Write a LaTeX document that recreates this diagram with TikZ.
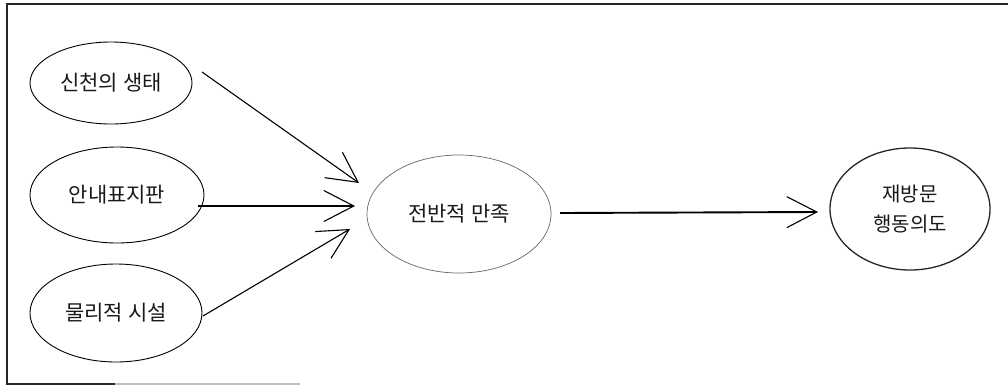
\documentclass[tikz,border=0pt]{standalone}
\usepackage{fontspec}
\setmainfont{Noto Sans CJK KR}
\usetikzlibrary{arrows.meta,calc,shapes.geometric}
\tikzset{
  bubble/.style={ellipse,draw=black,line width=0.9pt,inner sep=0pt,font=\fontsize{21}{24}\selectfont,text=black!90},
  conn/.style={line width=1.1pt,-{Straight Barb[length=30pt,width=31pt,line width=1.1pt]}},
  frameline/.style={line width=1.4pt,draw=black!85}
}
\begin{document}
\begin{tikzpicture}[x=1pt,y=-1pt]
\useasboundingbox (0,0) rectangle (1008,386);
% frame (partial, as printed)
\coordinate (ftl) at (7,4);
\coordinate (ftr) at (1008,4);
\coordinate (fbl) at (7,384);
\coordinate (fbm) at (115,384);
\coordinate (fbe) at (300,384);
\draw[frameline] (ftr) -- (ftl) -- (fbl) -- (fbm);
\draw[line width=1.2pt,black!25] (fbm) -- (fbe);
% nodes
\node[bubble,minimum width=162pt,minimum height=82pt] (e1) at (111,83) {신천의 생태};
\node[bubble,minimum width=174pt,minimum height=96pt] (e2) at (117,195) {안내표지판};
\node[bubble,minimum width=172pt,minimum height=98pt] (e3) at (116,313) {물리적 시설};
\node[bubble,draw=black!60,line width=0.7pt,minimum width=184pt,minimum height=118pt] (c) at (459,214) {전반적 만족};
\node[bubble,draw=black!85,line width=1.3pt,minimum width=160pt,minimum height=122pt,align=center,font=\fontsize{20}{30}\selectfont] (r) at (910,209) {재방문\\행동의도};
% connectors
\draw[conn] ($(e1.center)+(91,-11)$) -- ($(c.center)+(-100,-31)$);
\draw[conn,line width=1.6pt] ($(e2.center)+(81,11)$) -- ($(c.center)+(-104,-8)$);
\draw[conn] ($(e3.center)+(87,3)$) -- ($(c.center)+(-109,15)$);
\draw[conn,line width=1.9pt] ($(c.center)+(101,-1)$) -- ($(r.center)+(-92,3)$);
\end{tikzpicture}
\end{document}
